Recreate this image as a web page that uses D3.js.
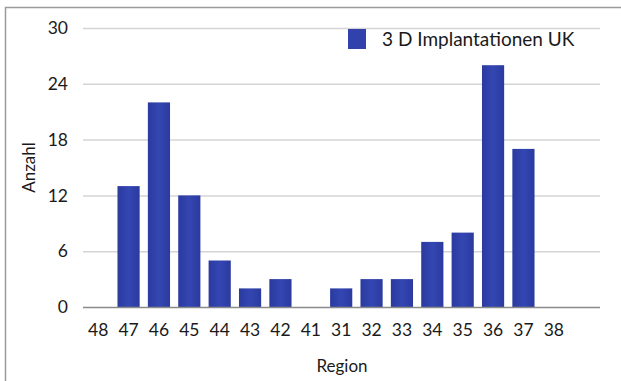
<!DOCTYPE html>
<html>
<head>
<meta charset="utf-8">
<script src="https://cdn.jsdelivr.net/npm/d3@7"></script>
<style>
  body { margin: 0; background: #fff; }
  svg { display: block; font-family: Lato, "Open Sans", sans-serif; }
</style>
</head>
<body>
<div id="chart"></div>
<script>
//Chart data
var regions = ["48", "47", "46", "45", "44", "43", "42", "41", "31", "32", "33", "34", "35", "36", "37", "38"];
var counts = [0, 13, 22, 12, 5, 2, 3, 0, 2, 3, 3, 7, 8, 26, 17, 0];
var yTicks = [0, 6, 12, 18, 24, 30];
var seriesName = "3 D Implantationen UK";

//Layout
var width = 621, height = 381;
var plot = { left: 83, right: 600, top: 28, bottom: 307, bandRight: 569 };
var textColor = "#1a1a1a";

var svg = d3.select("#chart")
    .append("svg")
        .attr("width", width)
        .attr("height", height);

//Outer frame (top and left only)
svg.append("path")
    .attr("d", "M5.5," + height + "V7.5H" + width)
    .attr("fill", "none")
    .attr("stroke", "#9a9a9a")
    .attr("stroke-width", 1.5);

//Scales
var x = d3.scaleBand()
    .domain(regions)
    .range([plot.left, plot.bandRight])
    .paddingInner(0.27)
    .paddingOuter(0.135);

var y = d3.scaleLinear()
    .domain([0, 30])
    .range([plot.bottom, plot.top]);

//Gridlines
svg.append("g")
    .selectAll("line")
    .data(yTicks.filter(function(d) { return d > 0; }))
    .join("line")
        .attr("x1", plot.left)
        .attr("x2", plot.right)
        .attr("y1", function(d) { return y(d) + 0.5; })
        .attr("y2", function(d) { return y(d) + 0.5; })
        .attr("stroke", "#d4d4d4")
        .attr("stroke-width", 1.5);

//Bars
var grad = svg.append("defs").append("linearGradient")
    .attr("id", "barGrad")
    .attr("x1", "0").attr("x2", "1").attr("y1", "0").attr("y2", "0");
grad.append("stop").attr("offset", "0%").attr("stop-color", "#2a3a9f");
grad.append("stop").attr("offset", "50%").attr("stop-color", "#3446b2");
grad.append("stop").attr("offset", "100%").attr("stop-color", "#2a3a9f");

svg.append("g")
    .selectAll("rect")
    .data(regions.map(function(r, i) { return { region: r, value: counts[i] }; }))
    .join("rect")
        .attr("x", function(d) { return x(d.region); })
        .attr("y", function(d) { return y(d.value); })
        .attr("width", x.bandwidth())
        .attr("height", function(d) { return y(0) - y(d.value); })
        .attr("fill", "url(#barGrad)");

//Baseline
svg.append("line")
    .attr("x1", plot.left)
    .attr("x2", plot.right)
    .attr("y1", y(0) + 0.5)
    .attr("y2", y(0) + 0.5)
    .attr("stroke", "#8a8a8a")
    .attr("stroke-width", 1.5);

//Y axis labels
var yAxis = svg.append("g")
    .attr("transform", "translate(" + (plot.left - 15) + ",0)")
    .call(d3.axisLeft(y).tickValues(yTicks).tickSize(0).tickPadding(0));
yAxis.select(".domain").remove();
yAxis.selectAll("text")
    .attr("font-size", 17.5)
    .attr("font-family", "Lato, sans-serif")
    .attr("fill", textColor);

//X axis labels
var xAxis = svg.append("g")
    .attr("transform", "translate(0," + (plot.bottom + 17) + ")")
    .call(d3.axisBottom(x).tickSize(0).tickPadding(0));
xAxis.select(".domain").remove();
xAxis.selectAll("text")
    .attr("font-size", 17.5)
    .attr("font-family", "Lato, sans-serif")
    .attr("fill", textColor);

//Axis titles
svg.append("text")
    .attr("transform", "translate(35," + ((plot.top + plot.bottom) / 2 + 0) + ") rotate(-90)")
    .attr("text-anchor", "middle")
    .attr("font-size", 17)
    .attr("fill", textColor)
    .text("Anzahl");

svg.append("text")
    .attr("x", 342)
    .attr("y", 372)
    .attr("text-anchor", "middle")
    .attr("font-size", 17)
    .attr("fill", textColor)
    .text("Region");

//Legend
var legend = svg.append("g")
    .attr("transform", "translate(348,29)");
legend.append("rect")
    .attr("width", 18)
    .attr("height", 20)
    .attr("fill", "#3142ad");
legend.append("text")
    .attr("x", 34)
    .attr("y", 17)
    .attr("font-size", 19)
    .attr("fill", textColor)
    .text(seriesName);
</script>
</body>
</html>
